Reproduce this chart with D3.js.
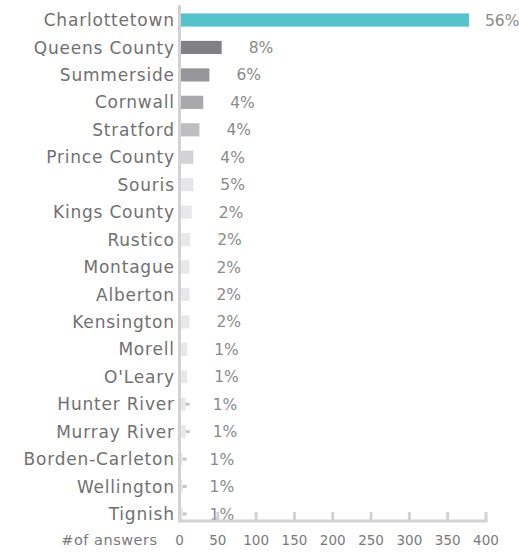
<!DOCTYPE html>
<html><head><meta charset="utf-8">
<script src="https://cdn.jsdelivr.net/npm/d3@7"></script>
<style>
html,body{margin:0;padding:0;background:#fff;}
svg{display:block;font-family:"DejaVu Sans","Open Sans",sans-serif;}
</style></head>
<body>
<svg id="chart" width="519" height="552"></svg>
<script>
const categories = ["Charlottetown","Queens County","Summerside","Cornwall","Stratford","Prince County","Souris","Kings County","Rustico","Montague","Alberton","Kensington","Morell","O'Leary","Hunter River","Murray River","Borden-Carleton","Wellington","Tignish"];
const answers = [378,55,39,31,26,18,18,16,14,13,13,13,10,10,8,8,4,4,4];
const percents = ["56%","8%","6%","4%","4%","4%","5%","2%","2%","2%","2%","2%","1%","1%","1%","1%","1%","1%","1%"];
const markerRows = ["Hunter River","Murray River","Borden-Carleton","Wellington","Tignish"];
const barColors = ["#53c4cc","#808085","#96969a","#a9a9ad","#bebec1","#d3d3d5","#e6e6e8","#e8e8ea","#e8e8ea","#e8e8ea","#e8e8ea","#e8e8ea","#e8e8ea","#e8e8ea","#e8e8ea","#e8e8ea","#e8e8ea","#e8e8ea","#e8e8ea"];
const xTicks = [0,50,100,150,200,250,300,350,400];
const axisTitle = "#of answers";

const svg = d3.select("#chart");
const x0 = 179.5, x1 = 486;
const x = d3.scaleLinear().domain([0,400]).range([x0,x1]);
const y = d3.scaleBand().domain(categories).range([6.3,527.7]).paddingInner(0.52).paddingOuter(0.26);

svg.selectAll("rect.bar").data(categories).join("rect")
  .attr("class","bar")
  .attr("x", x(0))
  .attr("y", d=>y(d))
  .attr("width", (d,i)=>x(answers[i])-x(0))
  .attr("height", y.bandwidth())
  .attr("fill", (d,i)=>barColors[i]);

svg.selectAll("rect.mk").data(markerRows).join("rect")
  .attr("class","mk")
  .attr("x", d=>x(answers[categories.indexOf(d)]))
  .attr("y", d=>y(d)+y.bandwidth()/2-1.5)
  .attr("width", 4)
  .attr("height", 3)
  .attr("fill", "#c4c4c6");

svg.selectAll("text.cat").data(categories).join("text")
  .attr("class","cat")
  .attr("x", 174.8)
  .attr("y", d=>y(d)+y.bandwidth()/2)
  .attr("dy","0.36em")
  .attr("text-anchor","end")
  .attr("font-size",17)
  .attr("letter-spacing","0.8px")
  .attr("fill","#707070")
  .text(d=>d);

svg.selectAll("text.pct").data(categories).join("text")
  .attr("class","pct")
  .attr("x", (d,i)=>Math.min(x(answers[i])+27, 485))
  .attr("y", d=>y(d)+y.bandwidth()/2)
  .attr("dy","0.36em")
  .attr("font-size",15.5)
  .attr("fill","#8a8a8a")
  .text((d,i)=>percents[i]);

const axisY = 521;
const g = svg.append("g").attr("transform",`translate(0,${axisY})`);
g.append("line").attr("x1",x0-1.5).attr("x2",x1+1.5).attr("y1",0).attr("y2",0)
  .attr("stroke","#d2d2d2").attr("stroke-width",3);
g.selectAll("line.tick").data(xTicks.slice(1)).join("line")
  .attr("class","tick")
  .attr("x1",d=>x(d)).attr("x2",d=>x(d)).attr("y1",0).attr("y2",-9)
  .attr("stroke","#d2d2d2").attr("stroke-width",3);
g.selectAll("text.tl").data(xTicks).join("text")
  .attr("class","tl")
  .attr("x",d=>x(d)).attr("y",19)
  .attr("dy","0.36em")
  .attr("text-anchor","middle")
  .attr("font-size",13.5)
  .attr("fill","#7a7a7a")
  .text(d=>d);
svg.append("line").attr("x1",x0).attr("x2",x0).attr("y1",5).attr("y2",axisY)
  .attr("stroke","#d2d2d2").attr("stroke-width",3);
svg.append("text").attr("x",157.5).attr("y",axisY+19).attr("dy","0.36em")
  .attr("text-anchor","end").attr("font-size",14.5).attr("letter-spacing","0.5px")
  .attr("fill","#7a7a7a").text(axisTitle);
</script>
</body></html>
